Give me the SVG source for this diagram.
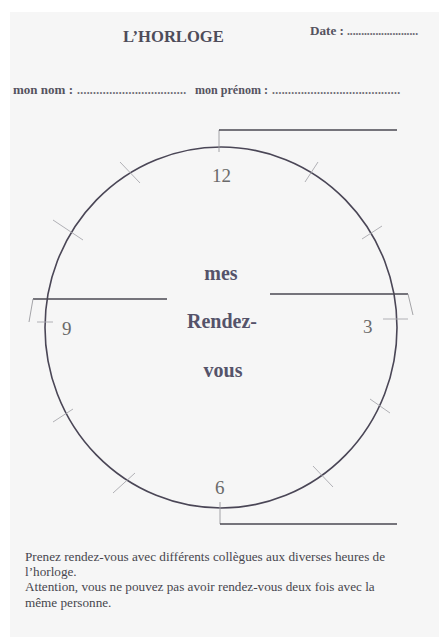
<svg xmlns="http://www.w3.org/2000/svg" width="439" height="641" viewBox="0 0 439 641">
<style>
.serif{font-family:"Liberation Serif","Times New Roman",serif}
.hdr{font-weight:bold;fill:#4e4c5a}
.small{font-size:11.5px;font-weight:bold;fill:#55535f}
.dots{font-size:11.5px;font-weight:bold;fill:#6a6872}
.num{font-size:19px;fill:#6a6a6a}
.mid{font-size:20px;font-weight:bold;fill:#55536a;text-anchor:middle}
.para{font-size:13.2px;fill:#47464e}
.line{stroke:#4a4852;stroke-width:1.6;fill:none}
.thin{stroke:#9a9a9e;stroke-width:0.9;fill:none}
.tick{stroke:#a8a8ae;stroke-width:0.9}
</style>
<rect x="0" y="0" width="439" height="641" fill="#ffffff"/>
<rect x="10" y="12" width="429" height="625" fill="#f6f6f6"/>

<g id="header" class="serif">
<text x="123" y="42" class="hdr" font-size="16.6">L’HORLOGE</text>
<text x="310" y="35" class="small" textLength="34" lengthAdjust="spacingAndGlyphs">Date :</text>
<text x="347" y="35" class="dots" textLength="71" lengthAdjust="spacing">.........................</text>
<text x="13" y="94" class="small" textLength="60" lengthAdjust="spacingAndGlyphs">mon nom :</text>
<text x="77" y="94" class="dots" textLength="109" lengthAdjust="spacing">..................................</text>
<text x="195" y="94" class="small" textLength="73" lengthAdjust="spacingAndGlyphs">mon prénom :</text>
<text x="272" y="94" class="dots" textLength="128" lengthAdjust="spacing">........................................</text>
</g>

<g id="clock">
<ellipse cx="221" cy="327.5" rx="176" ry="180.5" fill="none" stroke="#4a4656" stroke-width="1.6"/>
<g id="ticks">
<line class="tick" x1="305" y1="182" x2="318" y2="162"/>
<line class="tick" x1="362" y1="239" x2="382" y2="226"/>
<line class="tick" x1="383" y1="319" x2="408" y2="319"/>
<line class="tick" x1="370" y1="399" x2="390" y2="413"/>
<line class="tick" x1="313" y1="466" x2="333" y2="487"/>
<line class="tick" x1="113" y1="493" x2="135" y2="473"/>
<line class="tick" x1="53" y1="422" x2="73" y2="409"/>
<line class="tick" x1="37" y1="322" x2="53" y2="322"/>
<line class="tick" x1="53" y1="220" x2="83" y2="240"/>
<line class="tick" x1="120" y1="162" x2="140" y2="183"/>
</g>
<g class="serif">
<text x="212" y="182" class="num">12</text>
<text x="62" y="335" class="num">9</text>
<text x="363" y="333" class="num">3</text>
<text x="215" y="494" class="num">6</text>
</g>
</g>

<g id="connectors">
<line class="thin" x1="219" y1="130" x2="219" y2="152"/>
<line class="line" x1="219" y1="130" x2="397" y2="130"/>
<line class="line" x1="33" y1="299" x2="167" y2="299"/>
<line class="thin" x1="33" y1="299" x2="29" y2="322"/>
<line class="line" x1="270" y1="294" x2="408" y2="294"/>
<line class="thin" x1="408" y1="294" x2="413" y2="315"/>
<line class="thin" x1="220" y1="502" x2="220" y2="524"/>
<line class="line" x1="220" y1="524" x2="397" y2="524"/>
</g>

<g id="center-label" class="serif">
<text x="221" y="280" class="mid">mes</text>
<text x="222" y="328" class="mid">Rendez-</text>
<text x="223" y="377" class="mid">vous</text>
</g>

<g id="instructions" class="serif">
<text x="25" y="561" class="para">Prenez rendez-vous avec différents collègues aux diverses heures de</text>
<text x="25" y="576" class="para">l’horloge.</text>
<text x="25" y="591" class="para">Attention, vous ne pouvez pas avoir rendez-vous deux fois avec la</text>
<text x="25" y="607" class="para">même personne.</text>
</g>
</svg>
